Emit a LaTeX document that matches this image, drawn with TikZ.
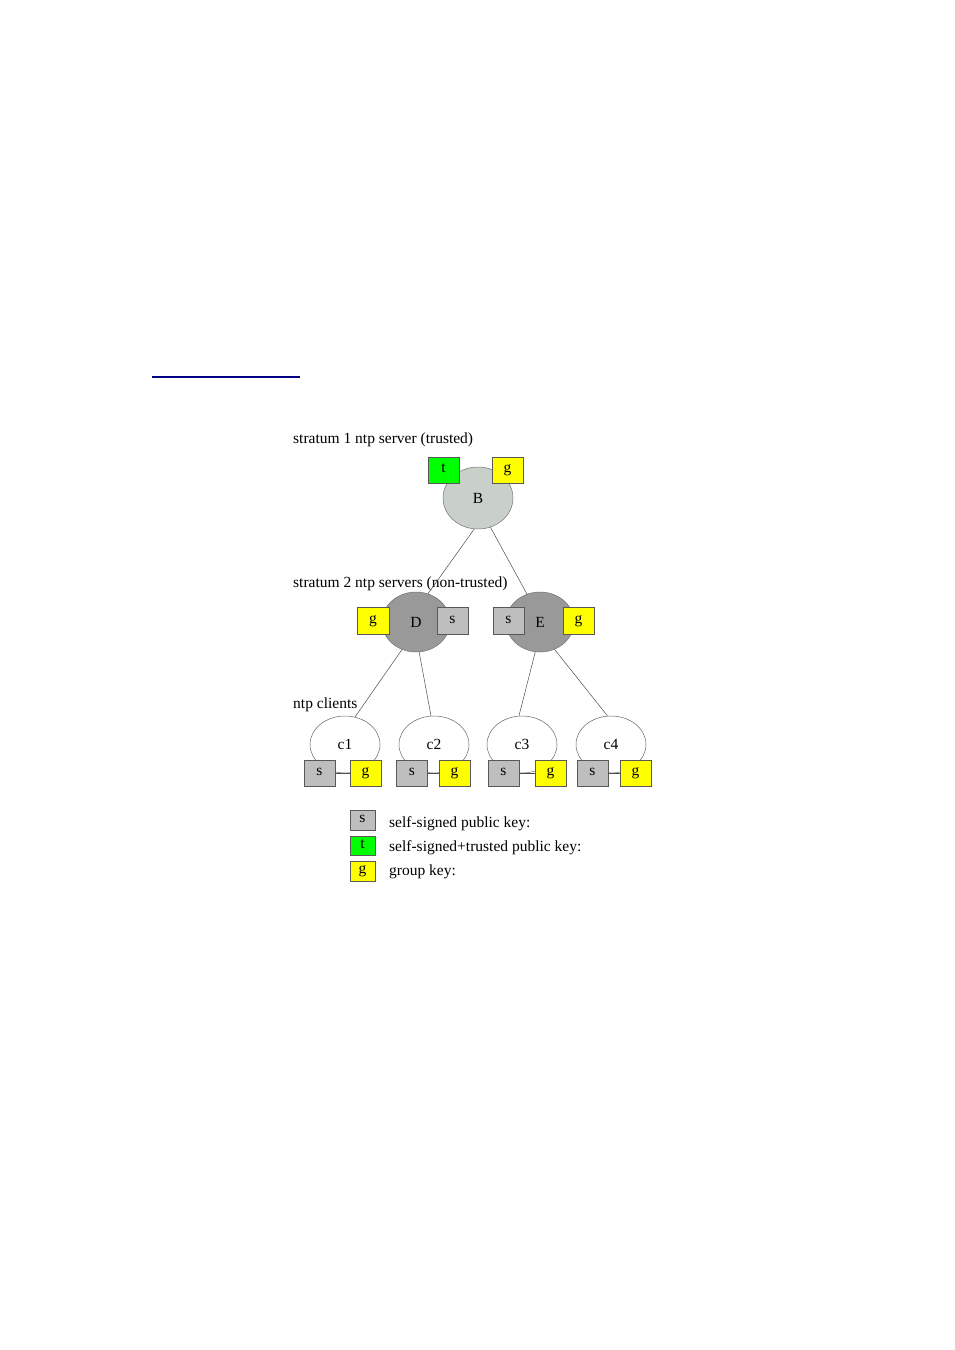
\documentclass[tikz,border=0pt]{standalone}
\usepackage{fontspec}
\setmainfont{Liberation Serif}
\usepackage{xcolor}
\usetikzlibrary{shapes.geometric}
\definecolor{trustgray}{RGB}{201,208,201}
\definecolor{srvgray}{RGB}{153,153,153}
\definecolor{keygray}{RGB}{190,190,190}
\definecolor{keyyellow}{RGB}{255,255,0}
\definecolor{keygreen}{RGB}{0,255,0}
\definecolor{rulenavy}{RGB}{0,0,128}
\begin{document}
\begin{tikzpicture}[x=1pt, y=-1pt, font=\fontsize{15.5}{18}\selectfont,
  srv/.style={ellipse, draw=black!55, line width=0.5pt, inner sep=0pt,
    minimum width=69pt, minimum height=61pt},
  cli/.style={ellipse, draw=black!60, fill=white, line width=0.5pt, inner sep=0pt,
    minimum width=70pt, minimum height=57pt},
  keybox/.style={draw=black!65, line width=0.5pt, inner sep=0pt,
    minimum width=31pt, minimum height=26pt, text height=7pt, text depth=2pt},
  legbox/.style={keybox, minimum width=25pt, minimum height=20pt},
  lnk/.style={black!70, line width=0.5pt},
  lvl/.style={anchor=base west, inner sep=0pt}]
\useasboundingbox (0,0) rectangle (954,1350);
\draw[rulenavy, line width=1.2pt] (152,377) -- (300,377);
% ---- level labels ----
\node[lvl] (lvl1) at (293,443) {stratum 1 ntp server (trusted)};
\node[lvl] (lvl2) at (293,587) {stratum 2 ntp servers (non-trusted)};
\node[lvl] (lvl3) at (293,708) {ntp clients};
% ---- servers ----
\node[srv, fill=trustgray, minimum width=70pt, minimum height=62pt] (B) at (478,498) {B};
\node[srv, fill=srvgray, minimum width=68pt, minimum height=60pt] (D) at (416,622) {D};
\node[srv, fill=srvgray, minimum width=68pt, minimum height=60pt] (E) at (540,622) {E};
% ---- clients ----
\node[cli] (c1) at (345,744.5) {c1};
\node[cli] (c2) at (434,744.5) {c2};
\node[cli] (c3) at (522,744.5) {c3};
\node[cli] (c4) at (611,744.5) {c4};
% ---- tree links ----
\draw[lnk] (B.-97) -- (D.67);
\draw[lnk] (B.-67) -- (E.115);
\draw[lnk] (D.243) -- (c1.70);
\draw[lnk] (D.276) -- (c2.96);
\draw[lnk] (E.261) -- (c3.96);
\draw[lnk] (E.298) -- (c4.97);
% ---- keys on servers ----
\node[keybox, fill=keygreen] (Bt) at (443.5,470) {t};
\node[keybox, fill=keyyellow] (Bg) at (507.5,470) {g};
\node[keybox, fill=keyyellow, minimum width=32pt, minimum height=27pt] (Dg) at (373,620.5) {g};
\node[keybox, fill=keygray, minimum height=27pt] (Ds) at (452.5,620.5) {s};
\node[keybox, fill=keygray, minimum height=27pt] (Es) at (508.5,620.5) {s};
\node[keybox, fill=keyyellow, minimum height=27pt] (Eg) at (578.5,620.5) {g};
% ---- keys on clients ----
\node[keybox, fill=keygray] (c1s) at (319.5,773) {s};
\node[keybox, fill=keyyellow] (c1g) at (365.5,773) {g};
\node[keybox, fill=keygray] (c2s) at (412,773) {s};
\node[keybox, fill=keyyellow] (c2g) at (454.5,773) {g};
\node[keybox, fill=keygray] (c3s) at (503.5,773) {s};
\node[keybox, fill=keyyellow] (c3g) at (550.5,773) {g};
\node[keybox, fill=keygray] (c4s) at (592.5,773) {s};
\node[keybox, fill=keyyellow] (c4g) at (635.5,773) {g};
\draw[lnk] (c1s) -- (c1g);
\draw[lnk] (c2s) -- (c2g);
\draw[lnk] (c3s) -- (c3g);
\draw[lnk] (c4s) -- (c4g);
% ---- legend ----
\node[legbox, fill=keygray] (legs) at (362.5,820) {s};
\node[legbox, fill=keygreen, minimum height=19pt] (legt) at (362.5,845.5) {t};
\node[legbox, fill=keyyellow] (legg) at (362.5,871) {g};
\node[lvl] (legstxt) at (389,827) {self-signed public key:};
\node[lvl] (legttxt) at (389,851) {self-signed+trusted public key:};
\node[lvl] (leggtxt) at (389,875) {group key:};
\end{tikzpicture}
\end{document}
